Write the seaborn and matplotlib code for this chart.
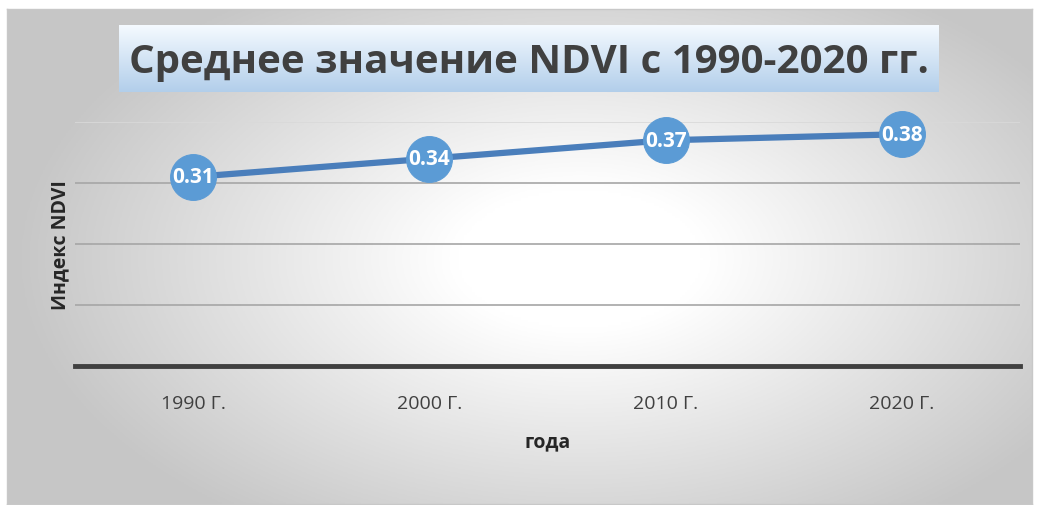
import numpy as np
import matplotlib
matplotlib.use("Agg")
import matplotlib.pyplot as plt
import seaborn as sns
import pandas as pd

# Datos del gráfico
anios = ["1990 Г.", "2000 Г.", "2010 Г.", "2020 Г."]
ndvi = [0.31, 0.34, 0.37, 0.38]
titulo = "Среднее значение NDVI с 1990-2020 гг."

sns.set_style("white")
plt.rcParams['font.family'] = ['Open Sans', 'DejaVu Sans']

W, H = 1039, 506
fig = plt.figure(figsize=(W / 100, H / 100), dpi=100)
fig.patch.set_facecolor("white")

# Fondo con degradado radial (área del gráfico)
fx0, fx1, fy0, fy1 = 7, 1032, 10, 505
bg = fig.add_axes([fx0 / W, 1 - fy1 / H, (fx1 - fx0) / W, (fy1 - fy0) / H])
xx, yy = np.meshgrid(np.linspace(fx0, fx1, 400), np.linspace(fy0, fy1, 200))
d = np.sqrt(((xx - 580) / 560) ** 2 + ((yy - 260) / 320) ** 2)
t = np.clip((d - 0.22) / 0.78, 0, 1)
gris = 1.0 - 0.22 * t
bg.imshow(np.dstack([gris, gris, gris]), aspect="auto", extent=[0, 1, 0, 1], origin="upper")
bg.set_xticks([])
bg.set_yticks([])
for s in bg.spines.values():
    s.set_color("#c8c8c8")
    s.set_linewidth(1)

# Área de trazado
ax = fig.add_axes([75 / W, 1 - 367 / H, 945 / W, 244 / H])
ax.patch.set_alpha(0)
df = pd.DataFrame({"anio": anios, "ndvi": ndvi})
sns.lineplot(data=df, x="anio", y="ndvi", ax=ax, color="#4a7ebb", linewidth=4.5,
             marker="o", markersize=33, markerfacecolor="#5b9bd5",
             markeredgecolor="#5b9bd5", clip_on=False, zorder=5)
for i, v in enumerate(ndvi):
    ax.text(i, v, f"{v:.2f}", ha="center", va="center", color="white",
            fontsize=15, fontweight="bold", zorder=6)

ax.set_xlim(-0.5, 3.5)
ax.set_ylim(0, 0.4)
ax.set_yticks([0.1, 0.2, 0.3, 0.4])
ax.set_yticklabels([])
ax.tick_params(axis="both", length=0)
for y in [0.1, 0.2, 0.3]:
    ax.axhline(y, color="#a6a6a6", linewidth=1.2, zorder=1)
ax.axhline(0.4, color="#d9d9d9", linewidth=1.2, zorder=1)
for s in ["top", "right", "left"]:
    ax.spines[s].set_visible(False)
ax.spines["bottom"].set_color("#404040")
ax.spines["bottom"].set_linewidth(3.5)
ax.tick_params(axis="x", labelsize=14, labelcolor="#404040", pad=20)
ax.set_xlabel("года", fontsize=14, fontweight="bold", color="#262626", labelpad=14)
ax.set_ylabel("Индекс NDVI", fontsize=14, fontweight="bold", color="#262626", labelpad=0)

# Caja del título con degradado
tx0, tx1, ty0, ty1 = 119, 939, 26, 93
tb = fig.add_axes([tx0 / W, 1 - ty1 / H, (tx1 - tx0) / W, (ty1 - ty0) / H])
g = np.linspace(0, 1, 100)[:, None]
top = np.array([0.96, 0.98, 1.0])
bot = np.array([0.70, 0.81, 0.92])
grad = top[None, None, :] * (1 - g[..., None]) + bot[None, None, :] * g[..., None]
grad = np.repeat(grad, 10, axis=1)
tb.imshow(grad, aspect="auto", extent=[0, 1, 0, 1], origin="upper")
tb.set_axis_off()
tb.text(0.5, 0.45, titulo, ha="center", va="center", fontsize=29,
        fontweight="bold", color="#404040", transform=tb.transAxes)

fig.savefig("out.png", dpi=100)
